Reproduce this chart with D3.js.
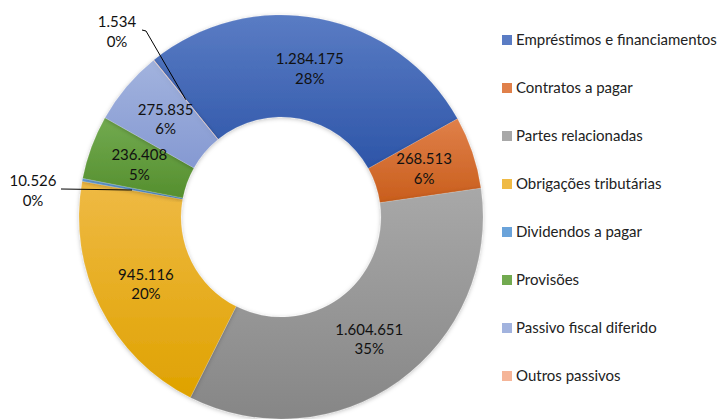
<!DOCTYPE html>
<html>
<head>
<meta charset="utf-8">
<script src="https://cdn.jsdelivr.net/npm/d3@7"></script>
<style>
  body { margin: 0; background: #fff; }
  svg text { font-family: Lato, "Open Sans", sans-serif; }
</style>
</head>
<body>
<div id="chart"></div>
<script>
// data
var categories = ["Empréstimos e financiamentos", "Contratos a pagar", "Partes relacionadas",
    "Obrigações tributárias", "Dividendos a pagar", "Provisões", "Passivo fiscal diferido", "Outros passivos"];
var values = [1284175, 268513, 1604651, 945116, 10526, 236408, 275835, 1534];
var valueLabels = ["1.284.175", "268.513", "1.604.651", "945.116", "10.526", "236.408", "275.835", "1.534"];
var pctLabels = ["28%", "6%", "35%", "20%", "0%", "5%", "6%", "0%"];

var colorsTop = ["#5a7cc4", "#e0804a", "#a8a8a8", "#efba45", "#6aa3da", "#72aa50", "#a2b3de", "#f5b598"];
var colorsBottom = ["#2d55a8", "#c95e1c", "#868686", "#dfa200", "#4a88c4", "#558f2e", "#8599d2", "#ee9c7a"];

var width = 722, height = 419;
var cx = 281, cy = 217, outerR = 202, innerR = 100;

var svg = d3.select("#chart")
    .append("svg")
    .attr("width", width)
    .attr("height", height);

var defs = svg.append("defs");
categories.forEach(function (c, i) {
    var g = defs.append("linearGradient")
        .attr("id", "grad" + i)
        .attr("x1", 0).attr("y1", 0).attr("x2", 0).attr("y2", 1);
    g.append("stop").attr("offset", "0%").attr("stop-color", colorsTop[i]);
    g.append("stop").attr("offset", "100%").attr("stop-color", colorsBottom[i]);
});
var f = defs.append("filter").attr("id", "shadow")
    .attr("x", "-10%").attr("y", "-10%").attr("width", "120%").attr("height", "120%");
f.append("feDropShadow").attr("dx", 0).attr("dy", 1).attr("stdDeviation", 2)
    .attr("flood-color", "#000").attr("flood-opacity", 0.25);

var startDeg = -39;
var pie = d3.pie()
    .sort(null)
    .value(function (d) { return d; })
    .startAngle(startDeg * Math.PI / 180)
    .endAngle((startDeg + 360) * Math.PI / 180);

var arcs = pie(values);

var arc = d3.arc().innerRadius(innerR).outerRadius(outerR);
var labelArc = d3.arc().innerRadius(151).outerRadius(151);

var g = svg.append("g").attr("transform", "translate(" + cx + "," + cy + ")");

g.selectAll("path.slice")
    .data(arcs)
    .enter()
    .append("path")
    .attr("class", "slice")
    .attr("d", arc)
    .style("fill", function (d, i) { return "url(#grad" + i + ")"; })
    .style("stroke", "rgba(255,255,255,0.25)")
    .style("stroke-width", 0.5)
    .attr("filter", "url(#shadow)");

// labels: inside for big slices, leader lines for tiny ones
var outside = {
    4: { tx: 33, ty: 181, line: [[61, 189], [132, 190]] },
    7: { tx: 117, ty: 22, line: [[142, 30], [146, 31]] }
};

arcs.forEach(function (d, i) {
    var c = labelArc.centroid(d);
    var lx = c[0] + cx, ly = c[1] + cy;
    if (outside[i]) {
        var o = outside[i];
        var pts = o.line.slice();
        if (i === 7) pts.push([lx, ly]);
        svg.append("path")
            .attr("d", d3.line()(pts))
            .attr("fill", "none")
            .attr("stroke", "#000")
            .attr("stroke-width", 1);
        lx = o.tx; ly = o.ty;
    } else {
        ly = ly - 10;
    }
    var t = svg.append("text")
        .attr("x", lx)
        .attr("y", ly)
        .attr("text-anchor", "middle")
        .style("font-size", "15px")
        .style("fill", "#111");
    t.append("tspan").attr("x", lx).attr("dy", "0.35em").text(valueLabels[i]);
    t.append("tspan").attr("x", lx).attr("dy", "1.3em").text(pctLabels[i]);
});

// legend
var legend = svg.append("g").attr("transform", "translate(502,40)");
var item = legend.selectAll("g.item")
    .data(categories)
    .enter()
    .append("g")
    .attr("class", "item")
    .attr("transform", function (d, i) { return "translate(0," + (i * 48) + ")"; });
item.append("rect")
    .attr("x", 0).attr("y", -5)
    .attr("width", 10).attr("height", 10)
    .style("fill", function (d, i) { return colorsTop[i]; });
item.append("text")
    .attr("x", 14)
    .attr("y", 0)
    .attr("dy", "0.35em")
    .style("font-size", "15px")
    .style("fill", "#222")
    .text(function (d) { return d; });
</script>
</body>
</html>
